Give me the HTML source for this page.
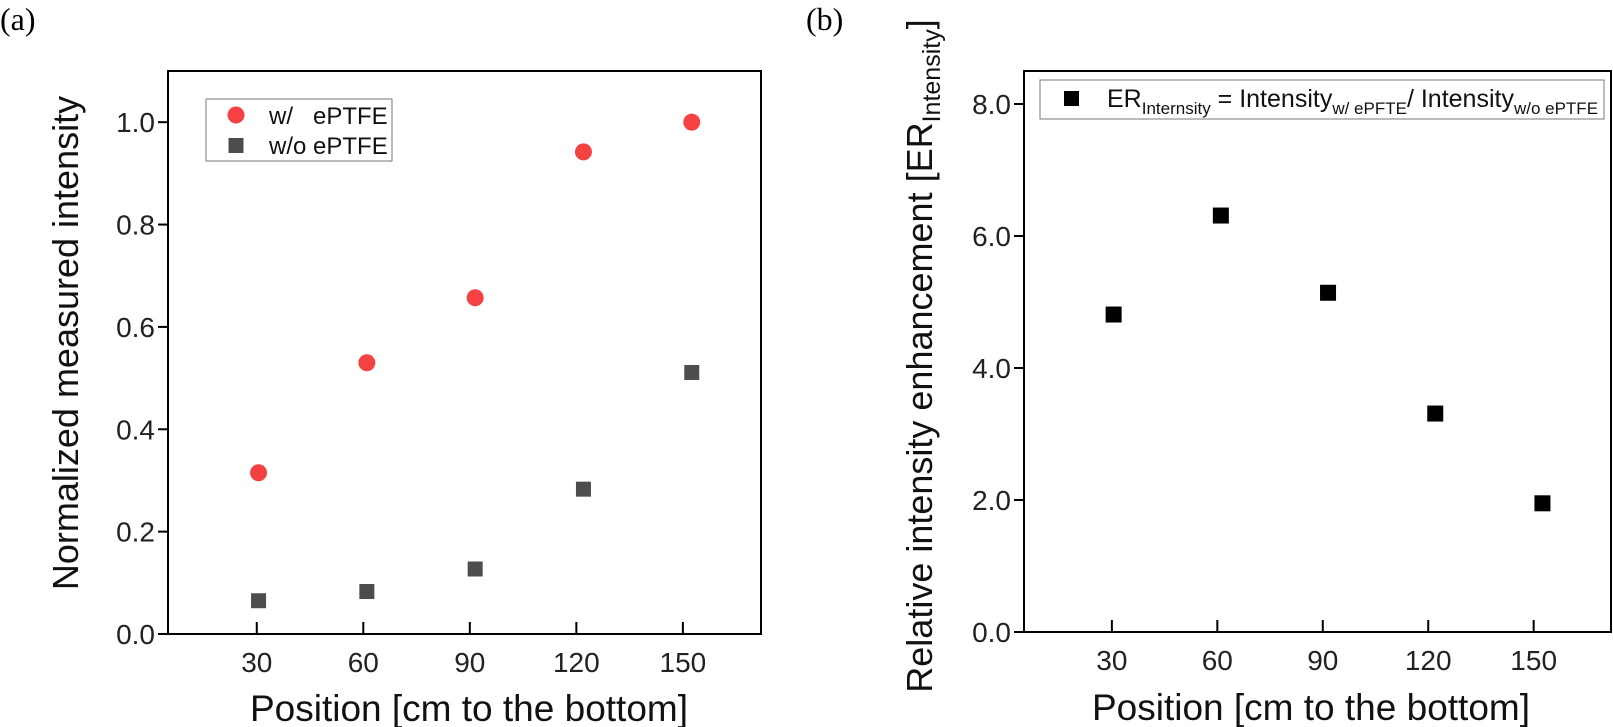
<!DOCTYPE html>
<html><head><meta charset="utf-8"><style>
html,body{margin:0;padding:0;background:#fff;}
svg{display:block;font-family:"Liberation Sans",sans-serif;}
</style></head><body>
<svg id="fig" width="1613" height="727" viewBox="0 0 1613 727" xmlns="http://www.w3.org/2000/svg">
<text x="0" y="30" font-family="Liberation Serif, serif" font-size="32">(a)</text>
<text x="806" y="30" font-family="Liberation Serif, serif" font-size="32">(b)</text>
<g id="pa"></g>
<g id="pb"></g>
</svg>
<script>
const xTicks = [30, 60, 90, 120, 150];
const posA = [30.5, 61, 91.5, 122, 152.5];
const withEPTFE = [0.315, 0.53, 0.657, 0.942, 1.0];
const withoutEPTFE = [0.065, 0.083, 0.127, 0.283, 0.511];
const yTicksA = [0, 0.2, 0.4, 0.6, 0.8, 1.0];
const yLabelsA = ["0.0", "0.2", "0.4", "0.6", "0.8", "1.0"];
const posB = [30.5, 61, 91.5, 122, 152.5];
const erValues = [4.81, 6.31, 5.14, 3.31, 1.95];
const yTicksB = [0, 2, 4, 6, 8];
const yLabelsB = ["0.0", "2.0", "4.0", "6.0", "8.0"];

const NS = "http://www.w3.org/2000/svg";
function mk(parent, tag, attrs, txt) {
  const e = document.createElementNS(NS, tag);
  for (const k in attrs) e.setAttribute(k, attrs[k]);
  if (txt !== undefined) e.textContent = txt;
  parent.appendChild(e);
  return e;
}
function axes(g, L, R, T, B, xmin, xmax, ymin, ymax, yT, yL) {
  const sx = v => L + (v - xmin) / (xmax - xmin) * (R - L);
  const sy = v => B - (v - ymin) / (ymax - ymin) * (B - T);
  const fr = mk(g, "rect", {x: L, y: T, width: R - L, height: B - T, fill: "none", stroke: "#000", "stroke-width": 2});
  
  
  xTicks.forEach(t => {
    const l = mk(g, "line", {x1: sx(t), x2: sx(t), y1: B, y2: B - 12, stroke: "#000", "stroke-width": 2});
    
    
    const tx = mk(g, "text", {x: sx(t), y: B + 38, "text-anchor": "middle", "font-size": 28, fill: "#222"}, String(t));
    
    
  });
  yT.forEach((t, i) => {
    const l = mk(g, "line", {x1: L, x2: L - 10, y1: sy(t), y2: sy(t), stroke: "#000", "stroke-width": 2});
    
    
    const tx = mk(g, "text", {x: L - 13, y: sy(t) + 10, "text-anchor": "end", "font-size": 28, fill: "#222"}, yL[i]);
    
    
  });
  return {sx, sy};
}
const ga = document.getElementById("pa");
const A = axes(ga, 168, 761, 71, 634, 5, 172, 0, 1.1, yTicksA, yLabelsA);
posA.forEach((x, i) => {
  const c = mk(ga, "circle", {cx: A.sx(x), cy: A.sy(withEPTFE[i]), r: 8.5, fill: "#f44242"});
  
  
  const s = mk(ga, "rect", {x: A.sx(x) - 7.5, y: A.sy(withoutEPTFE[i]) - 7.5, width: 15, height: 15, fill: "#4d4d4d"});
  
  
});
</script>
<script>
(function(){
const ga = document.getElementById("pa");
const lg = mk(ga, "g", {});


mk(lg, "rect", {x: 206, y: 99, width: 186, height: 62, fill: "#fff", stroke: "#777", "stroke-width": 1});
mk(lg, "circle", {cx: 236, cy: 115, r: 8.5, fill: "#f44242"});
mk(lg, "text", {x: 269, y: 124, "font-size": 24, fill: "#111", style: "white-space:pre"}, "w/   ePTFE");
mk(lg, "rect", {x: 228.5, y: 138, width: 15, height: 15, fill: "#4d4d4d"});
mk(lg, "text", {x: 269, y: 154, "font-size": 24, fill: "#111"}, "w/o ePTFE");
const xt = mk(ga, "text", {x: 469, y: 721, "text-anchor": "middle", "font-size": 37, fill: "#111"}, "Position [cm to the bottom]");


const yt = mk(ga, "text", {x: 0, y: 0, "text-anchor": "middle", "font-size": 36, fill: "#111", transform: "translate(78,343) rotate(-90)"}, "Normalized measured intensity");



const gb = document.getElementById("pb");
const B = axes(gb, 1024, 1611, 71, 632, 5, 172, 0, 8.5, yTicksB, yLabelsB);
posB.forEach((x, i) => {
  const s = mk(gb, "rect", {x: B.sx(x) - 8, y: B.sy(erValues[i]) - 8, width: 16, height: 16, fill: "#000"});
  
  
});
const lb = mk(gb, "g", {});


mk(lb, "rect", {x: 1040, y: 80, width: 564, height: 39, fill: "#fff", stroke: "#777", "stroke-width": 1});
mk(lb, "rect", {x: 1064, y: 91, width: 15, height: 15, fill: "#000"});
const lt = mk(lb, "text", {x: 1107, y: 107, "font-size": 25, fill: "#111"});
lt.innerHTML = 'ER<tspan font-size="17" dy="7">Internsity</tspan><tspan dy="-7"> = Intensity</tspan><tspan font-size="17" dy="7">w/ ePFTE</tspan><tspan dy="-7">/ Intensity</tspan><tspan font-size="17" dy="7">w/o ePTFE</tspan>';
const xb = mk(gb, "text", {x: 1311, y: 720, "text-anchor": "middle", "font-size": 37, fill: "#111"}, "Position [cm to the bottom]");


const yb = mk(gb, "text", {x: 0, y: 0, "text-anchor": "middle", "font-size": 36, fill: "#111", transform: "translate(932,356) rotate(-90)"});
yb.innerHTML = 'Relative intensity enhancement [ER<tspan font-size="25" dy="8">Intensity</tspan><tspan dy="-8">]</tspan>';


})();
</script>
</body></html>
